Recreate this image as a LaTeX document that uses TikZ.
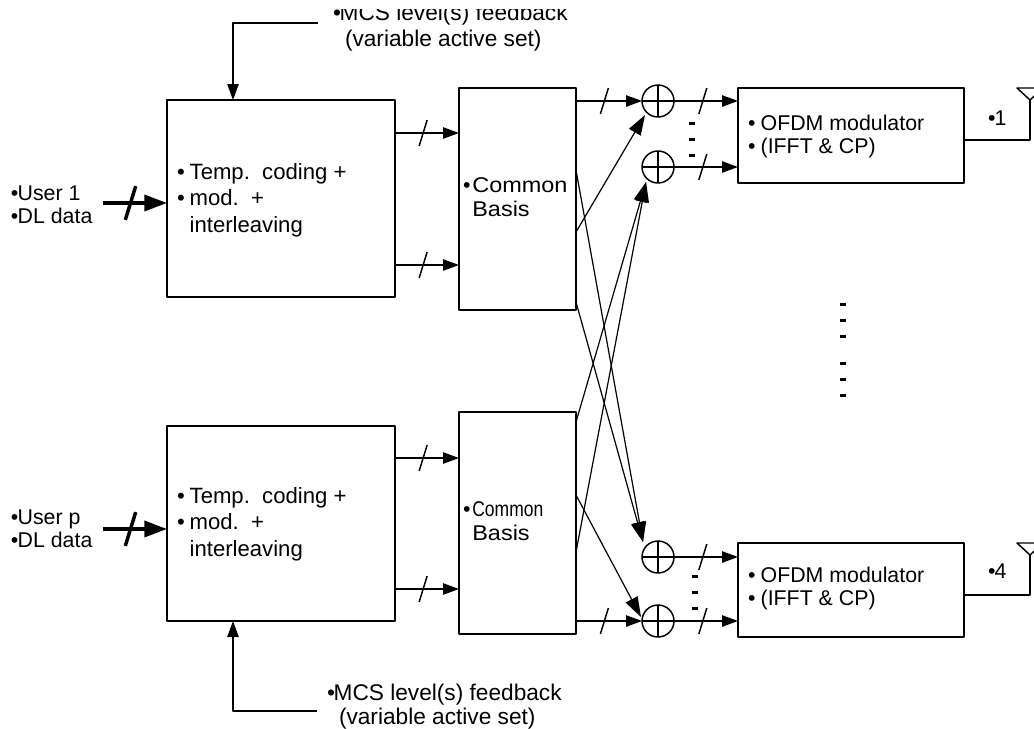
\documentclass[tikz,border=0pt]{standalone}
\usepackage{fontspec}
\setmainfont{Liberation Sans}
\usetikzlibrary{arrows.meta}
\newcommand{\bul}{\makebox[9.5pt][l]{•}}
\newcommand{\bulb}{\makebox[5pt][l]{•}}
\tikzset{
	blockbox/.style={draw,inner sep=0pt,outer sep=0pt},
	sumnode/.style={circle,draw,inner sep=0pt,outer sep=0pt,minimum size=24pt,
		path picture={\draw (path picture bounding box.north)--(path picture bounding box.south);
			\draw (path picture bounding box.west)--(path picture bounding box.east);}},
	txt/.style={anchor=west,align=left,inner sep=0pt,outer sep=0pt},
	slashmark/.pic={\draw[-] (-4,13)--(4,-13);},
	dotmark/.pic={\fill (-3,-1.5) rectangle (3,1.5);},
	bigtip/.style={-{Triangle[length=17pt,width=12pt]}},
	crosstip/.style={-{Triangle[length=15pt,width=10pt]},line width=0.9pt}
}
\begin{document}
\begin{tikzpicture}[x=0.75pt,y=-0.75pt,>={Triangle[length=12pt,width=8.5pt]},line join=round,line width=1.1pt]
	\useasboundingbox (0,0) rectangle (1034,728);
	\clip (0,0) rectangle (1034,728);
	% blocks
	\node[blockbox,minimum width=171pt,minimum height=147.75pt] (codeA) at (281,198.5) {};
	\node[blockbox,minimum width=171pt,minimum height=146.25pt] (codeB) at (281,523.5) {};
	\node[blockbox,minimum width=87.75pt,minimum height=166.5pt] (basisA) at (517.5,199) {};
	\node[blockbox,minimum width=87.75pt,minimum height=166.5pt] (basisB) at (517.5,523) {};
	\node[blockbox,minimum width=169.5pt,minimum height=71.25pt] (ofdmA) at (851,135.5) {};
	\node[blockbox,minimum width=169.5pt,minimum height=70.5pt] (ofdmB) at (851,590) {};
	\node[sumnode] (sumA) at (658,101) {};
	\node[sumnode] (sumB) at (658,167) {};
	\node[sumnode] (sumC) at (658,557) {};
	\node[sumnode] (sumD) at (658,621) {};
	% texts
	\node[txt,font=\fontsize{16.6}{20}\selectfont] (codeAtxt) at (177,200) {\bul Temp.\ \ coding +\\\bul mod.\ \ +\\\hspace*{9.5pt}interleaving};
	\node[txt,font=\fontsize{16.6}{20}\selectfont] (codeBtxt) at (177,524) {\bul Temp.\ \ coding +\\\bul mod.\ \ +\\\hspace*{9.5pt}interleaving};
	\node[txt,font=\fontsize{16}{17.5}\selectfont] (basisAtxt) at (463,197) {\makebox[7pt][l]{•}\scalebox{1.1}[1]{Common}\\\hspace*{7pt}\scalebox{1.1}[1]{Basis}};
	\node[txt,font=\fontsize{16}{17.5}\selectfont] (basisBtxt) at (463,521) {\makebox[7pt][l]{•}\scalebox{0.82}[1]{Common}\\\hspace*{7pt}\scalebox{1.1}[1]{Basis}};
	\node[txt,font=\fontsize{16}{17.25}\selectfont] (ofdmAtxt) at (748,136) {\bul OFDM modulator\\\bul (IFFT \& CP)};
	\node[txt,font=\fontsize{16}{17.25}\selectfont] (ofdmBtxt) at (748,588) {\bul OFDM modulator\\\bul (IFFT \& CP)};
	\node[txt,font=\fontsize{16}{17.25}\selectfont] (userA) at (11,204.5) {\bulb User 1\\\bulb DL data};
	\node[txt,font=\fontsize{16}{17.25}\selectfont] (userB) at (11,528.5) {\bulb User p\\\bulb DL data};
	\node[txt,font=\fontsize{16}{18}\selectfont] (labA) at (988,118) {\bulb 1};
	\node[txt,font=\fontsize{16}{18}\selectfont] (labB) at (988,571) {\bulb 4};
	\node[txt,font=\fontsize{17}{18}\selectfont] (fbB) at (327,707) {\bulb MCS level(s) feedback\\\hspace*{9pt}(variable active set)};
	\begin{scope}
		\clip (0,9) rectangle (1034,60);
		\node[txt,font=\fontsize{17}{19.5}\selectfont] (fbA) at (333,28) {\bulb MCS level(s) feedback\\\hspace*{9pt}(variable active set)};
	\end{scope}
	% user inputs
	\coordinate (inA) at (103,203);
	\coordinate (inB) at (103,529);
	\draw[bigtip,line width=2.6pt] (inA) -- (codeA.west |- inA) pic[pos=0.43,scale=1.3]{slashmark};
	\draw[bigtip,line width=2.6pt] (inB) -- (codeB.west |- inB) pic[pos=0.43,scale=1.3]{slashmark};
	% feedback
	\coordinate (fbendA) at (318,23);
	\coordinate (fbendB) at (317,711);
	\draw[->] (fbendA) -| (233,100 |- codeA.north);
	\draw[->] (fbendB) -| (233,100 |- codeB.south);
	% coding to basis
	\draw[->] (codeA.east |- 0,133) -- (basisA.west |- 0,133) pic[pos=0.44]{slashmark};
	\draw[->] (codeA.east |- 0,265) -- (basisA.west |- 0,265) pic[pos=0.44]{slashmark};
	\draw[->] (codeB.east |- 0,458) -- (basisB.west |- 0,458) pic[pos=0.44]{slashmark};
	\draw[->] (codeB.east |- 0,589) -- (basisB.west |- 0,589) pic[pos=0.44]{slashmark};
	% basis to sums
	\draw[->] (basisA.east |- sumA) -- (sumA.west) pic[pos=0.43]{slashmark};
	\draw[->] (basisB.east |- sumD) -- (sumD.west) pic[pos=0.43]{slashmark};
	\coordinate (tipA) at ([shift={(-13,14)}]sumA.center);
	\coordinate (tipB) at ([shift={(-12,15)}]sumB.center);
	\coordinate (tipC) at ([shift={(-15,-15)}]sumC.center);
	\coordinate (tipD) at ([shift={(-17,-4)}]sumD.center);
	\draw[crosstip] (basisA.east |- 0,232) -- (tipA);
	\draw[crosstip] (basisA.east |- 0,170) -- (tipC);
	\draw[crosstip] (basisA.east |- 0,302) -- (tipC);
	\draw[crosstip] (basisB.east |- 0,422) -- (tipB);
	\draw[crosstip] (basisB.east |- 0,552) -- (tipB);
	\draw[crosstip] (basisB.east |- 0,495) -- (tipD);
	% sums to ofdm
	\draw[->] (sumA.east) -- (ofdmA.west |- sumA) pic[pos=0.45]{slashmark};
	\draw[->] (sumB.east) -- (ofdmA.west |- sumB) pic[pos=0.45]{slashmark};
	\draw[->] (sumC.east) -- (ofdmB.west |- sumC) pic[pos=0.45]{slashmark};
	\draw[->] (sumD.east) -- (ofdmB.west |- sumD) pic[pos=0.45]{slashmark};
	% antennas
	\coordinate (antA) at (1030,100);
	\coordinate (antB) at (1030,555);
	\draw (ofdmA.east |- 0,140) -| (antA);
	\draw (ofdmB.east |- 0,595) -| (antB);
	\draw (antA) -- ++(-13,-12) -- ++(26,0) -- cycle;
	\draw (antB) -- ++(-13,-12) -- ++(26,0) -- cycle;
	% dots
	\foreach \y in {123,139,155} \pic at (692,\y) {dotmark};
	\foreach \y in {576,592,608} \pic at (695,\y) {dotmark};
	\foreach \y in {304,320,336,363,379,395} \pic at (843,\y) {dotmark};
\end{tikzpicture}
\end{document}
